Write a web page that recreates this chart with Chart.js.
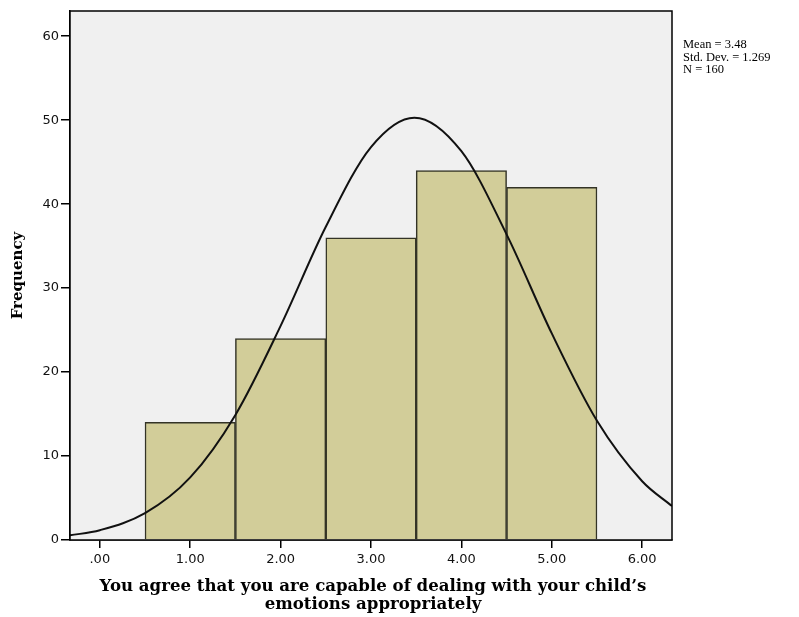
<!DOCTYPE html>
<html>
<head>
<meta charset="utf-8">
<script src="https://cdn.jsdelivr.net/npm/chart.js@4/dist/chart.umd.min.js"></script>
<style>
  body { margin: 0; background: #fff; }
  #wrap { width: 799px; height: 617px; }
</style>
</head>
<body>
<div id="wrap"><canvas id="chart"></canvas></div>
<script>
// histogram bins (midpoints) and counts
const binMids = [1, 2, 3, 4, 5];
const binCounts = [14, 24, 36, 44, 42];

// normal curve
const curveX = [-0.33, 0, 0.5, 1, 1.5, 2, 2.5, 3, 3.48, 4, 4.5, 5, 5.5, 6, 6.33];
const curveY = [0.55, 1.17, 3.19, 7.45, 14.9, 25.5, 37.3, 46.8, 50.3, 46.3, 36.4, 24.6, 14.2, 7.0, 4.04];

const xTickLabels = [".00", "1.00", "2.00", "3.00", "4.00", "5.00", "6.00"];
const yTicks = [0, 10, 20, 30, 40, 50, 60];
const statsLines = ["Mean = 3.48", "Std. Dev. = 1.269", "N = 160"];
const xTitleLines = ["You agree that you are capable of dealing with your child\u2019s", "emotions appropriately"];
const yTitle = "Frequency";

const framePlugin = {
  id: "frame",
  beforeDatasetsDraw(chart) {
    const { ctx, chartArea: a } = chart;
    ctx.save();
    ctx.fillStyle = "#f0f0f0";
    ctx.fillRect(a.left, a.top, a.right - a.left, a.bottom - a.top);
    ctx.restore();
  },
  afterDraw(chart) {
    const { ctx, chartArea: a } = chart;
    ctx.save();
    ctx.strokeStyle = "#000";
    ctx.lineWidth = 1.5;
    ctx.strokeRect(a.left, a.top, a.right - a.left, a.bottom - a.top);

    // stats box
    ctx.fillStyle = "#000";
    ctx.font = "12.5px 'Liberation Serif'";
    ctx.textBaseline = "middle";
    ctx.textAlign = "left";
    statsLines.forEach((s, i) => ctx.fillText(s, a.right + 11, 45 + i * 12.5));

    // axis titles
    ctx.font = "bold 16.6px 'DejaVu Serif'";
    ctx.textAlign = "center";
    const cx = (a.left + a.right) / 2 + 2;
    xTitleLines.forEach((s, i) => ctx.fillText(s, cx, 587 + i * 18));
    ctx.font = "bold 15px 'DejaVu Serif'";
    ctx.translate(18, (a.top + a.bottom) / 2);
    ctx.rotate(-Math.PI / 2);
    ctx.fillText(yTitle, 0, 0);
    ctx.restore();
  }
};

new Chart(document.getElementById("chart"), {
  type: "bar",
  data: {
    datasets: [
      {
        type: "line",
        data: curveX.map((x, i) => ({ x: x, y: curveY[i] })),
        borderColor: "#111",
        borderWidth: 2,
        pointRadius: 0,
        cubicInterpolationMode: "monotone",
        fill: false,
        order: 0,
      },
      {
        data: binMids.map((x, i) => ({ x: x, y: binCounts[i] })),
        backgroundColor: "#d2cd99",
        borderColor: "#333326",
        borderWidth: 1.5,
        barPercentage: 1,
        categoryPercentage: 1,
        order: 1,
      },
    ],
  },
  options: {
    responsive: true,
    maintainAspectRatio: false,
    animation: false,
    layout: { padding: { left: 0, right: 127, top: 11, bottom: 0 } },
    plugins: { legend: { display: false }, tooltip: { enabled: false } },
    scales: {
      x: {
        type: "linear",
        min: -0.33,
        max: 6.33,
        offset: false,
        afterFit(s) { s.height = 77; },
        afterBuildTicks(s) { s.ticks = xTickLabels.map((l, i) => ({ value: i })); },
        ticks: {
          color: "#111",
          font: { family: "'DejaVu Sans'", size: 13 },
          padding: 4,
          callback: (v, i) => xTickLabels[i],
        },
        grid: { offset: false, drawOnChartArea: false, drawTicks: true, tickLength: 8, lineWidth: 1.5, color: "#000" },
        border: { display: true, color: "#000", width: 1.5 },
      },
      y: {
        min: 0,
        max: 63,
        afterFit(s) { s.width = 70; },
        afterBuildTicks(s) { s.ticks = yTicks.map((v) => ({ value: v })); },
        ticks: {
          color: "#111",
          font: { family: "'DejaVu Sans'", size: 13 },
          padding: 2,
        },
        grid: { drawOnChartArea: false, drawTicks: true, tickLength: 9, lineWidth: 1.5, color: "#000" },
        border: { display: true, color: "#000", width: 1.5 },
      },
    },
  },
  plugins: [framePlugin],
});
</script>
</body>
</html>
